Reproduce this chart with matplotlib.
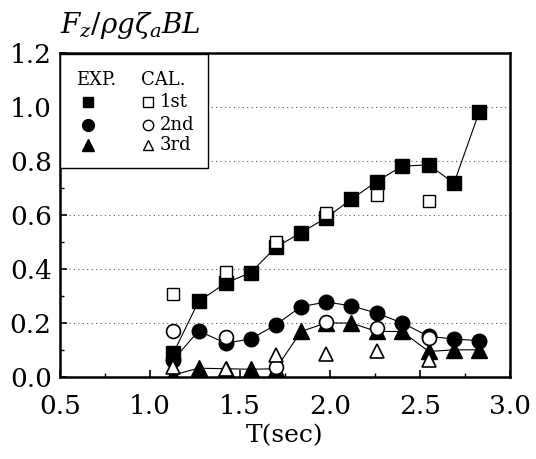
import numpy as np
import matplotlib
matplotlib.use('Agg')
import matplotlib.pyplot as plt
from matplotlib.patches import Rectangle

plt.rcParams['font.family'] = 'DejaVu Serif'
plt.rcParams['mathtext.fontset'] = 'dejavuserif'

#%% data
T_exp = [1.13, 1.27, 1.42, 1.56, 1.70, 1.84, 1.98, 2.12, 2.26, 2.40, 2.55, 2.69, 2.83]
exp_1st = [0.088, 0.279, 0.347, 0.386, 0.48, 0.534, 0.589, 0.658, 0.723, 0.78, 0.785, 0.717, 0.98]
exp_2nd = [0.063, 0.17, 0.125, 0.14, 0.193, 0.26, 0.277, 0.263, 0.236, 0.2, 0.15, 0.14, 0.134]
exp_3rd = [0.007, 0.032, 0.03, 0.028, 0.03, 0.168, 0.2, 0.199, 0.168, 0.168, 0.094, 0.1, 0.1]

T_cal = [1.13, 1.42, 1.70, 1.98, 2.26, 2.55]
cal_1st = [0.307, 0.39, 0.50, 0.606, 0.674, 0.65]
cal_2nd = [0.171, 0.147, 0.038, 0.203, 0.18, 0.143]
cal_3rd = [0.038, 0.028, 0.081, 0.085, 0.094, 0.063]

xticks = [0.5, 1.0, 1.5, 2.0, 2.5, 3.0]
yticks = [0.0, 0.2, 0.4, 0.6, 0.8, 1.0, 1.2]

#%% plot
fig = plt.figure(figsize=(5.36, 4.59), dpi=100)
ax = fig.add_axes([0.112, 0.179, 0.839, 0.706])

for v in yticks[1:-1]:
    ax.axhline(v, color='0.35', ls=(0, (1, 3)), lw=0.8, zorder=0)

ax.plot(T_exp, exp_1st, 'k-', lw=0.8, marker='s', ms=9.5, mfc='k', zorder=3)
ax.plot(T_exp, exp_3rd, 'k-', lw=0.8, marker='^', ms=11, mfc='k', zorder=3)
ax.plot(T_exp, exp_2nd, 'k-', lw=0.8, marker='o', ms=10.5, mfc='k', zorder=3)

ax.plot(T_cal, cal_1st, ls='none', marker='s', ms=9, mfc='white', mec='k', mew=1.0, zorder=4)
ax.plot(T_cal, cal_2nd, ls='none', marker='o', ms=10, mfc='white', mec='k', mew=1.2, zorder=4)
ax.plot(T_cal, cal_3rd, ls='none', marker='^', ms=10.5, mfc='white', mec='k', mew=1.2, zorder=4)

ax.set_xlim(0.5, 3.0)
ax.set_ylim(0.0, 1.2)
ax.set_xticks(xticks)
ax.set_yticks(yticks)
ax.set_xticks(np.arange(0.75, 3.0, 0.5), minor=True)
ax.set_yticks(np.arange(0.1, 1.2, 0.2), minor=True)
ax.tick_params(which='both', direction='in', top=False, right=False, labelsize=19)
ax.tick_params(which='major', length=5, width=1.2)
ax.tick_params(which='minor', length=3, width=1.0)
ax.tick_params(axis='x', pad=12)
ax.tick_params(axis='y', pad=6)
for s in ax.spines.values():
    s.set_linewidth(1.8)

ax.set_xlabel('T(sec)', fontsize=18, labelpad=4)
fig.text(0.112, 0.945, r'$F_z/\rho g\zeta_a BL$', fontsize=20, va='center', ha='left')

# hand-made legend box
ax.add_patch(Rectangle((0.0, 0.645), 0.329, 0.35, transform=ax.transAxes,
                       fc='white', ec='k', lw=1.0, zorder=5))
tx = dict(transform=ax.transAxes, fontsize=13, zorder=6, va='center')
ax.text(0.035, 0.915, 'EXP.', **tx)
ax.text(0.18, 0.915, 'CAL.', **tx)
for y, m, lab in zip([0.847, 0.778, 0.714], ['s', 'o', '^'], ['1st', '2nd', '3rd']):
    ax.plot([0.062], [y], marker=m, ms=8.5 if m != 's' else 7.5, color='k',
            transform=ax.transAxes, zorder=6, clip_on=False)
    ax.plot([0.196], [y], marker=m, ms=7.5 if m != 's' else 6.5, mfc='white', mec='k', mew=1.0,
            transform=ax.transAxes, zorder=6, clip_on=False, ls='none')
    ax.text(0.222, y, lab, **tx)

fig.savefig('out.png', dpi=100)
